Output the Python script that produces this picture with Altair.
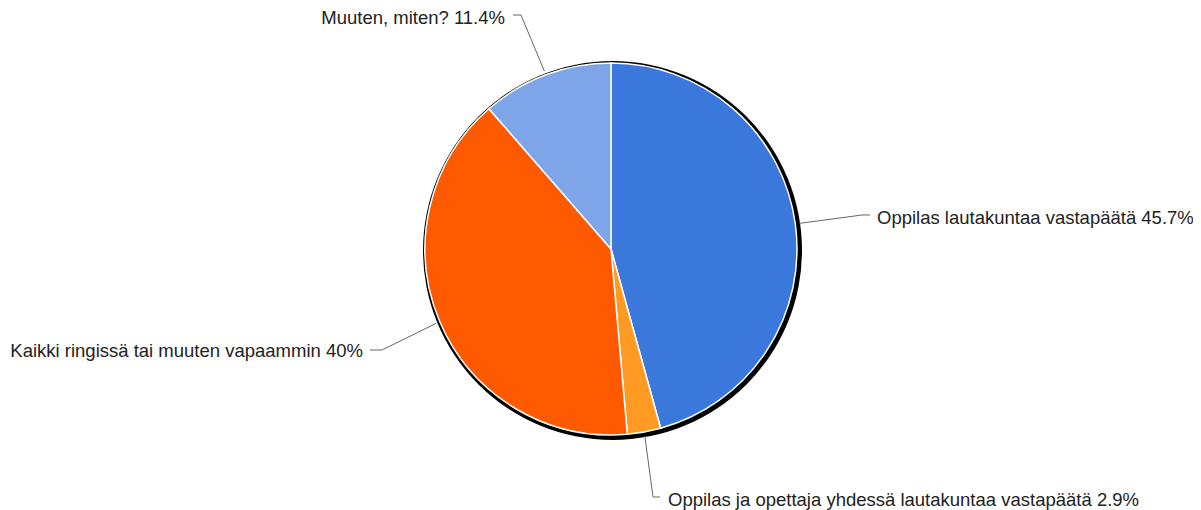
import math
import altair as alt
import pandas as pd

# ---- data ----
categories = [
    "Oppilas lautakuntaa vastapäätä",
    "Oppilas ja opettaja yhdessä lautakuntaa vastapäätä",
    "Kaikki ringissä tai muuten vapaammin",
    "Muuten, miten?",
]
values = [45.7, 2.9, 40, 11.4]
pct_text = ["45.7%", "2.9%", "40%", "11.4%"]
colors = ["#3a78dc", "#ff9a22", "#ff5a00", "#7ea5e8"]

# ---- layout (pixels in chart space) ----
W, H = 1185, 502
CX, CY, R = 603, 241, 186
R_LINE = 190
elbow_pts = [(854, 207), (645, 489), (374, 342), (513, 7)]
end_pts = [(862, 207), (652, 489), (362, 342), (505, 7)]
label_pts = [(869, 216), (660, 498), (355, 349), (497, 16)]
label_align = ["left", "left", "right", "right"]

pie_df = pd.DataFrame({"cat": categories, "value": values, "idx": range(len(values))})

# leader lines start at slice mid-angle
total = sum(values)
rows = []
lab_rows = []
cum = 0.0
for i, v in enumerate(values):
    mid = (cum + v / 2) / total * 2 * math.pi
    cum += v
    sx = CX + R_LINE * math.sin(mid)
    sy = CY - R_LINE * math.cos(mid)
    pts = [(sx, sy), elbow_pts[i], end_pts[i]]
    for k, (px, py) in enumerate(pts):
        rows.append({"cat": categories[i], "k": k, "px": px, "py": py})
    lab_rows.append({
        "cat": categories[i],
        "text": f"{categories[i]} {pct_text[i]}",
        "px": label_pts[i][0],
        "py": label_pts[i][1],
        "align": label_align[i],
    })
line_df = pd.DataFrame(rows)
lab_df = pd.DataFrame(lab_rows)

xs = alt.Scale(domain=[0, W], range=[0, W])
ys = alt.Scale(domain=[0, H], range=[0, H])

shadow = alt.Chart(pd.DataFrame({"v": [1]})).mark_arc(
    color="#000000", radius=R + 3.5, theta=0, theta2=2 * math.pi
).encode(x=alt.value(CX + 1.5), y=alt.value(CY + 1.5))

pie = alt.Chart(pie_df).mark_arc(
    radius=R, stroke="#ffffff", strokeWidth=1.5
).encode(
    theta=alt.Theta("value:Q", stack=True),
    order=alt.Order("idx:Q", sort="ascending"),
    color=alt.Color("cat:N", scale=alt.Scale(domain=categories, range=colors), legend=None),
    x=alt.value(CX),
    y=alt.value(CY),
)

lines = alt.Chart(line_df).mark_line(color="#666666", strokeWidth=1).encode(
    x=alt.X("px:Q", scale=xs, axis=None),
    y=alt.Y("py:Q", scale=ys, axis=None),
    detail="cat:N",
    order="k:Q",
)

text_common = dict(font="Liberation Sans", fontSize=18.5, color="#222222", baseline="alphabetic")
txt_left = alt.Chart(lab_df).transform_filter(alt.datum.align == "left").mark_text(
    align="left", **text_common
).encode(x=alt.X("px:Q", scale=xs, axis=None), y=alt.Y("py:Q", scale=ys, axis=None), text="text:N")
txt_right = alt.Chart(lab_df).transform_filter(alt.datum.align == "right").mark_text(
    align="right", **text_common
).encode(x=alt.X("px:Q", scale=xs, axis=None), y=alt.Y("py:Q", scale=ys, axis=None), text="text:N")

chart = alt.layer(shadow, pie, lines, txt_left, txt_right).properties(
    width=W, height=H, autosize=alt.AutoSizeParams(type="none"), padding=0
).configure_view(stroke=None)

chart.save("out.html", embed_options={"renderer": "svg", "actions": False})
